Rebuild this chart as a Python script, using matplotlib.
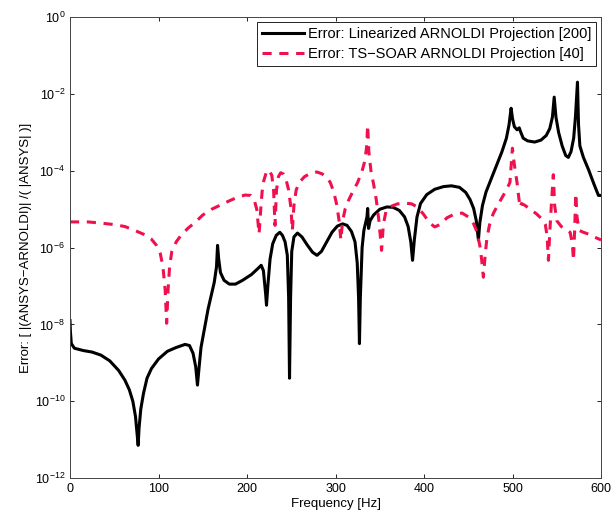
import numpy as np
import matplotlib
matplotlib.use("Agg")
import matplotlib.pyplot as plt

freq_lin = [0, 0.5, 1.5, 5, 15, 25, 35, 45, 55, 62, 67, 71, 74, 76, 77, 78, 80, 83, 87, 92, 100,
            110, 120, 130, 135, 139, 142, 144, 145.5, 148, 152, 156, 160, 163, 165.5, 166.7, 168,
            170, 174, 180, 187, 195, 205, 212, 216, 218.5, 221, 222, 223.5, 226, 229, 233, 237,
            240, 243, 245.5, 247, 248, 249.2, 250.5, 253, 257, 262, 268, 274, 279, 284, 290, 296,
            302, 308, 313, 318, 322, 324.5, 326, 327, 328, 330, 332, 334, 335.5, 336.3, 337.3,
            339, 343, 350, 358, 365, 372, 378, 382, 385, 387, 389, 392, 396, 403, 412, 422, 431,
            440, 447, 452, 456, 459, 461.4, 463, 466, 470, 476, 482, 488, 493, 496, 498.3, 500,
            502, 505, 507.5, 509, 512, 517, 525, 532, 538, 542, 545, 547, 549, 552, 556, 560, 563,
            566, 569, 571, 573.3, 574.5, 576, 580, 586, 592, 597, 600]
log_err_lin = [-7.9, -8.2, -8.5, -8.62, -8.68, -8.72, -8.8, -8.95, -9.2, -9.45, -9.7, -10.0, -10.4,
               -10.9, -11.15, -10.7, -10.2, -9.8, -9.4, -9.15, -8.9, -8.7, -8.6, -8.52, -8.55,
               -8.75, -9.1, -9.58, -9.2, -8.6, -8.1, -7.6, -7.2, -6.9, -6.5, -5.94, -6.3, -6.65,
               -6.85, -6.95, -6.95, -6.85, -6.7, -6.55, -6.46, -6.6, -7.2, -7.5, -7.0, -6.3, -5.9,
               -5.68, -5.6, -5.68, -5.85, -6.2, -7.3, -9.4, -7.3, -6.1, -5.72, -5.62, -5.72, -5.93,
               -6.12, -6.2, -6.1, -5.85, -5.6, -5.44, -5.38, -5.42, -5.58, -5.85, -6.4, -7.3, -8.5,
               -7.3, -6.0, -5.55, -5.35, -5.2, -4.98, -5.5, -5.3, -5.15, -5.0, -4.94, -4.95, -5.03,
               -5.2, -5.45, -5.85, -6.33, -5.8, -5.2, -4.85, -4.62, -4.48, -4.41, -4.39, -4.43,
               -4.56, -4.75, -4.98, -5.3, -5.8, -5.35, -4.9, -4.55, -4.2, -3.85, -3.5, -3.15, -2.8,
               -2.37, -2.65, -2.85, -2.93, -2.88, -2.98, -3.15, -3.22, -3.25, -3.2, -3.08, -2.9,
               -2.6, -2.08, -2.6, -3.0, -3.35, -3.6, -3.65, -3.5, -3.15, -2.6, -1.69, -2.8, -3.35,
               -3.65, -3.98, -4.35, -4.64, -4.64]

freq_soar = [0, 20, 35, 50, 62, 73, 83, 92, 98, 102, 105, 107.5, 109.2, 110.8, 112.5, 115, 120, 126,
             134, 141, 150, 160, 171, 181, 190, 198, 204, 208, 211, 213.6, 215.5, 217, 219, 222,
             225, 228, 230, 231.6, 233.3, 235.5, 238, 241, 244, 247, 249.5, 251.2, 253, 255.5,
             259, 265, 272, 279, 285, 290, 294, 298, 301.5, 304, 306, 308, 311, 315, 320, 325,
             330, 333, 335, 336.3, 337.6, 340, 343, 346, 349, 352, 354, 357, 362, 370, 378, 386,
             393, 400, 406, 412, 418, 426, 435, 443, 450, 456, 460, 463, 465, 467, 469, 471, 474,
             478, 483, 489, 494, 497, 499.8, 501.5, 503, 505, 507, 508.5, 510, 514, 520, 527, 533,
             537, 539, 540.5, 542, 544, 546, 547.5, 550, 555, 560, 565, 567.5, 568.8, 570, 571.4,
             572.8, 575, 580, 586, 592, 600]
log_err_soar = [-5.33, -5.33, -5.36, -5.4, -5.45, -5.55, -5.65, -5.78, -5.95, -6.15, -6.5, -7.1,
                -7.97, -7.1, -6.5, -6.1, -5.85, -5.66, -5.48, -5.35, -5.15, -5.0, -4.88, -4.77,
                -4.68, -4.63, -4.64, -4.75, -5.0, -5.64, -5.0, -4.55, -4.25, -4.02, -3.98, -4.12,
                -4.5, -5.42, -4.5, -4.15, -4.05, -4.08, -4.22, -4.5, -4.95, -5.55, -4.9, -4.5,
                -4.3, -4.15, -4.06, -4.03, -4.08, -4.17, -4.3, -4.55, -4.9, -5.3, -5.8, -5.3,
                -4.98, -4.75, -4.52, -4.3, -4.0, -3.75, -3.4, -2.81, -3.5, -4.0, -4.35, -4.75,
                -5.3, -6.07, -5.4, -5.05, -4.93, -4.86, -4.84, -4.86, -4.95, -5.15, -5.35, -5.46,
                -5.4, -5.22, -5.12, -5.1, -5.2, -5.38, -5.6, -5.95, -6.3, -6.77, -6.2, -5.75, -5.4,
                -5.12, -4.9, -4.66, -4.45, -4.3, -3.41, -3.75, -4.0, -4.3, -4.7, -4.95, -4.85,
                -4.9, -5.0, -5.12, -5.25, -5.4, -5.7, -6.33, -5.6, -4.8, -4.1, -4.9, -5.3, -5.45,
                -5.52, -5.6, -5.9, -6.33, -5.6, -4.59, -5.2, -5.55, -5.6, -5.65, -5.72, -5.8]

labels = ["Error: Linearized ARNOLDI Projection [200]", "Error: TS\u2212SOAR ARNOLDI Projection [40]"]

plt.rcParams["font.family"] = ["Liberation Sans", "DejaVu Sans"]

fig = plt.figure(figsize=(6.14, 5.23), dpi=100)
ax = fig.add_axes([0.114, 0.086, 0.865, 0.881])

ax.semilogy(freq_lin, 10.0 ** np.array(log_err_lin), color="black", lw=2.2, label=labels[0])
ax.semilogy(freq_soar, 10.0 ** np.array(log_err_soar), color="#f0104e", lw=2.2,
            linestyle=(0, (3, 2.5)), label=labels[1])

ax.set_xlim(0, 600)
ax.set_ylim(1e-12, 1)
ax.set_xticks(range(0, 601, 100))
ax.set_yticks(10.0 ** np.arange(-12, 1, 2))
ax.yaxis.set_minor_locator(matplotlib.ticker.NullLocator())
ax.tick_params(direction="in", top=True, right=True, labelsize=9, length=3, width=0.6)
for s in ax.spines.values():
    s.set_linewidth(0.7)
    s.set_color("#444444")

ax.set_xlabel("Frequency [Hz]", fontsize=9.5, labelpad=2)
ax.set_ylabel("Error: [ |(ANSYS\u2212ARNOLDI)| /( |ANSYS| )]", fontsize=9.5, labelpad=2)

leg = ax.legend(loc="upper right", fontsize=10.5, handlelength=2.9, fancybox=False,
                framealpha=1, borderpad=0.3, labelspacing=0.45, handletextpad=0.3,
                borderaxespad=0.35)
leg.get_frame().set_edgecolor("black")
leg.get_frame().set_linewidth(0.6)

fig.savefig("out.png", dpi=100)
